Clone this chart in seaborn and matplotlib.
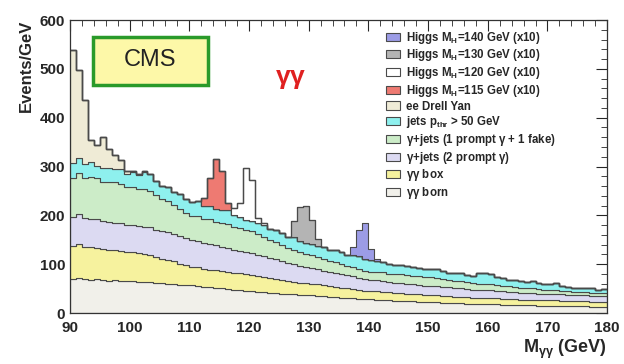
import numpy as np
import pandas as pd
import seaborn as sns
import matplotlib.pyplot as plt
from matplotlib.patches import Rectangle
from matplotlib.ticker import MultipleLocator

# 1 GeV bins from 90 to 180 GeV, Events/GeV
bin_start = 90

born = [70, 71, 69, 68, 70, 67, 66, 67, 65, 66,
        65, 64, 63, 64, 62, 61, 60, 60, 58, 57,
        57, 56, 54, 53, 52, 51, 49, 48, 47, 46,
        45, 44, 43, 42, 41, 40, 39, 38, 37, 36,
        36, 35, 34, 33, 32, 31, 31, 30, 29, 28,
        28, 27, 27, 26, 25, 25, 24, 24, 23, 22,
        22, 22, 21, 21, 20, 20, 19, 19, 18, 18,
        18, 18, 17, 17, 17, 16, 16, 16, 15, 15,
        15, 15, 15, 14, 14, 14, 14, 13, 13, 13]
box = [68, 70, 66, 67, 64, 65, 63, 62, 63, 60,
       60, 58, 57, 55, 52, 50, 48, 46, 43, 41,
       38, 38, 37, 36, 36, 35, 35, 34, 34, 33,
       33, 32, 31, 30, 29, 28, 27, 26, 25, 25,
       24, 24, 23, 22, 22, 21, 20, 20, 19, 18,
       18, 18, 17, 17, 16, 16, 15, 15, 15, 14,
       14, 14, 14, 13, 13, 13, 13, 12, 12, 12,
       12, 12, 12, 11, 11, 11, 11, 11, 11, 11,
       11, 11, 10, 10, 10, 10, 10, 10, 10, 10]
two_prompt = [58, 62, 60, 57, 59, 56, 58, 55, 57, 54,
              55, 57, 56, 58, 57, 56, 58, 55, 56, 55,
              55, 54, 53, 52, 51, 50, 49, 47, 46, 45,
              44, 43, 42, 41, 40, 38, 37, 36, 34, 33,
              32, 31, 30, 29, 28, 27, 26, 25, 24, 23,
              22, 22, 22, 21, 21, 21, 21, 20, 20, 20,
              20, 19, 19, 19, 18, 18, 18, 17, 17, 17,
              17, 16, 16, 16, 15, 15, 15, 15, 14, 14,
              14, 14, 13, 13, 13, 12, 12, 12, 11, 11]
one_fake = [80, 84, 82, 86, 83, 80, 82, 84, 80, 79,
            78, 76, 77, 73, 70, 67, 64, 60, 56, 52,
            48, 50, 49, 51, 48, 49, 50, 48, 47, 46,
            46, 43, 40, 37, 35, 33, 31, 30, 28, 27,
            26, 25, 24, 23, 22, 21, 20, 19, 18, 18,
            17, 17, 18, 16, 17, 17, 18, 16, 17, 17,
            17, 16, 16, 15, 15, 14, 14, 13, 13, 12,
            12, 12, 11, 11, 10, 10, 9, 9, 9, 8,
            8, 8, 8, 8, 7, 7, 7, 7, 7, 7]
jets = [32, 30, 28, 32, 26, 30, 28, 27, 30, 26,
        30, 28, 36, 34, 30, 26, 29, 27, 30, 28,
        30, 32, 26, 28, 27, 27, 29, 24, 22, 21,
        20, 22, 24, 23, 25, 25, 22, 26, 24, 23,
        24, 22, 25, 23, 26, 25, 22, 24, 26, 23,
        24, 22, 20, 21, 19, 19, 18, 20, 17, 18,
        18, 19, 16, 15, 17, 16, 14, 15, 22, 23,
        20, 16, 15, 13, 14, 13, 12, 14, 13, 12,
        11, 13, 10, 9, 8, 9, 8, 9, 7, 8]
drell_yan = [230, 181, 132, 45, 43, 62, 39, 29, 19, 6, 3, 2, 1]

# Higgs signals (x10), only the bins where they show up
h115_mass = [112, 113, 114, 115, 116]
h115 = [16, 56, 102, 78, 13]
h120_mass = [117, 118, 119, 120, 121, 122]
h120 = [14, 29, 105, 84, 11, 5]
h130_mass = [127, 128, 129, 130, 131]
h130 = [32, 70, 76, 48, 15]
h140_mass = [137, 138, 139, 140, 141]
h140 = [18, 54, 74, 22, 4]

labels = ['Higgs M$_H$=140 GeV (x10)', 'Higgs M$_H$=130 GeV (x10)',
          'Higgs M$_H$=120 GeV (x10)', 'Higgs M$_H$=115 GeV (x10)',
          'ee Drell Yan', 'jets p$_{thr}$ > 50 GeV',
          '$\\gamma$+jets (1 prompt $\\gamma$ + 1 fake)',
          '$\\gamma$+jets (2 prompt $\\gamma$)',
          '$\\gamma\\gamma$ box', '$\\gamma\\gamma$ born']
colors = ['#9c9ce6', '#b4b4b4', '#ffffff', '#ee7a72', '#efebd6',
          '#8ef0ee', '#ccecc8', '#dcdaf2', '#f6f29e', '#f1f0ea']

# long table for seaborn: one row per bin and sample
rows = []
series = [(labels[0], h140_mass, h140), (labels[1], h130_mass, h130),
          (labels[2], h120_mass, h120), (labels[3], h115_mass, h115)]
for name, vals in [(labels[4], drell_yan), (labels[5], jets), (labels[6], one_fake),
                   (labels[7], two_prompt), (labels[8], box), (labels[9], born)]:
    series.append((name, [bin_start + i for i in range(len(vals))], vals))
for name, m, v in series:
    for mm, vv in zip(m, v):
        rows.append({'mass': mm + 0.5, 'events': vv, 'sample': name})
df = pd.DataFrame(rows)

sns.set_style('white')
plt.rcParams['font.family'] = ['Liberation Sans', 'DejaVu Sans']
plt.rcParams['mathtext.default'] = 'regular'

fig = plt.figure(figsize=(6.24, 3.64), dpi=100)
ax = fig.add_axes([0.112, 0.14, 0.861, 0.805])

sns.histplot(data=df, x='mass', weights='events', hue='sample', hue_order=labels,
             palette=dict(zip(labels, colors)), multiple='stack', element='step',
             binwidth=1, binrange=(90, 180), alpha=1, edgecolor='#4a4a4a',
             linewidth=0.8, ax=ax)

ax.set_xlim(90, 180)
ax.set_ylim(0, 600)
ax.xaxis.set_major_locator(MultipleLocator(10))
ax.xaxis.set_minor_locator(MultipleLocator(2))
ax.yaxis.set_major_locator(MultipleLocator(100))
ax.yaxis.set_minor_locator(MultipleLocator(20))
ax.tick_params(which='both', direction='in', top=True, right=True, labelsize=11)
ax.tick_params(which='major', length=8)
ax.tick_params(which='minor', length=4)
ax.tick_params(axis='x', pad=6)
for lab in ax.get_xticklabels() + ax.get_yticklabels():
    lab.set_fontweight('bold')
for sp in ax.spines.values():
    sp.set_color('#333333')
    sp.set_linewidth(0.9)

ax.set_xlabel('M$_{\\gamma\\gamma}$ (GeV)', loc='right', fontsize=13, fontweight='bold',
              labelpad=2)
ax.set_ylabel('Events/GeV', loc='top', fontsize=12, fontweight='bold')

sns.move_legend(ax, 'upper left', bbox_to_anchor=(0.585, 0.975), title=None,
                frameon=False, fontsize=8.3, labelspacing=0.15, handlelength=1.2,
                handleheight=0.7, handletextpad=0.5, borderaxespad=0, borderpad=0.2)
for t in ax.get_legend().get_texts():
    t.set_fontweight('bold')

ax.add_patch(Rectangle((0.043, 0.778), 0.214, 0.164, transform=ax.transAxes,
                       facecolor='#fdf8a8', edgecolor='#2a9a2a', linewidth=2.5, zorder=5))
ax.text(0.15, 0.862, 'CMS', transform=ax.transAxes, fontsize=17,
        ha='center', va='center', color='#222222', zorder=6)
ax.text(0.41, 0.80, '$\\gamma\\gamma$', transform=ax.transAxes, fontsize=19,
        ha='center', va='center', color='#e02020', fontweight='bold')

fig.savefig('out.png', dpi=100)
